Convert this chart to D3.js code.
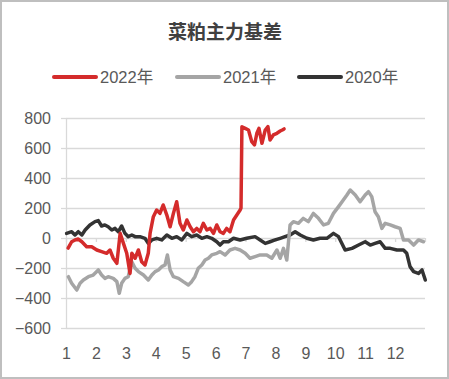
<!DOCTYPE html>
<html>
<head>
<meta charset="utf-8">
<script src="https://cdn.jsdelivr.net/npm/d3@7"></script>
<style>
  body { margin: 0; background: #fff; }
  svg { display: block; }
  .tick text { font-family: "Liberation Sans", Arial, sans-serif; fill: #595959; }
</style>
</head>
<body>
<svg class="svg-chart" width="449" height="379"></svg>
<script>
// 菜粕主力基差, x = month of year (fractional), y = basis
const title = '菜粕主力基差';
const seriesNames = ['2022年', '2021年', '2020年'];
const seriesColors = ['#d42b2b', '#a5a5a5', '#333333'];
const monthTicks = [1, 2, 3, 4, 5, 6, 7, 8, 9, 10, 11, 12];
const valueTicks = [-600, -400, -200, 0, 200, 400, 600, 800];

const x2022 = [1.07, 1.19, 1.30, 1.41, 1.53, 1.69, 1.86, 2.03, 2.19, 2.36, 2.47, 2.58, 2.70, 2.81, 2.92,
  3.03, 3.14, 3.20, 3.31, 3.42, 3.53, 3.64, 3.75, 3.81, 3.92, 4.03, 4.14, 4.25, 4.37, 4.48, 4.59, 4.70,
  4.81, 4.92, 5.04, 5.15, 5.26, 5.37, 5.48, 5.59, 5.71, 5.82, 5.93, 6.04, 6.15, 6.26, 6.37, 6.48, 6.60,
  6.71, 6.82, 6.85, 6.88, 6.99, 7.10, 7.21, 7.30, 7.38, 7.45, 7.55, 7.66, 7.75, 7.82, 7.93, 8.05, 8.16,
  8.23, 8.29];
const y2022 = [-67, -25, -13, -7, -25, -58, -58, -80, -91, -102, -80, -135, -169, 31, -36,
  -102, -236, -102, -135, -80, -158, -180, -102, 31, 142, 187, 164, 220, 153, 75, 164, 242,
  98, 53, 120, 75, 42, 64, 42, 98, 53, 64, 31, 87, 42, 31, 64, 42, 120,
  153, 187, 200, 742, 731, 720, 642, 620, 698, 731, 631, 720, 742, 653, 687, 698, 713,
  720, 727];

const x2021 = [1.08, 1.19, 1.36, 1.47, 1.58, 1.75, 1.91, 2.08, 2.19, 2.30, 2.41, 2.58, 2.70, 2.78, 2.86,
  2.97, 3.08, 3.20, 3.31, 3.42, 3.59, 3.75, 3.87, 3.98, 4.09, 4.20, 4.31, 4.39, 4.48, 4.59, 4.76, 4.92,
  5.09, 5.20, 5.31, 5.42, 5.54, 5.65, 5.76, 5.87, 6.04, 6.15, 6.32, 6.48, 6.65, 6.82, 6.99, 7.15, 7.32,
  7.49, 7.71, 7.88, 8.05, 8.16, 8.27, 8.38, 8.49, 8.60, 8.77, 8.93, 9.10, 9.27, 9.44, 9.61, 9.77, 9.94,
  10.11, 10.27, 10.39, 10.50, 10.67, 10.83, 11.00, 11.11, 11.22, 11.33, 11.44, 11.56, 11.67, 11.84,
  12.00, 12.17, 12.28, 12.45, 12.62, 12.78, 12.95];
const y2021 = [-258, -302, -347, -302, -280, -258, -247, -213, -247, -269, -258, -269, -291, -369, -302,
  -269, -258, -158, -202, -224, -247, -280, -247, -224, -213, -191, -180, -113, -213, -258, -269, -291,
  -313, -291, -258, -202, -180, -147, -135, -113, -102, -91, -113, -80, -69, -80, -102, -135, -124,
  -113, -113, -135, -80, -135, -69, -147, 87, 109, 98, 131, 109, 164, 131, 87, 98, 164,
  209, 253, 287, 320, 287, 242, 287, 309, 276, 175, 142, 64, 98, 87,
  75, 64, -13, -13, -47, -13, -25];

const x2020 = [1.02, 1.19, 1.30, 1.41, 1.53, 1.64, 1.80, 1.97, 2.08, 2.19, 2.30, 2.41, 2.53, 2.64, 2.75,
  2.86, 2.97, 3.08, 3.20, 3.31, 3.47, 3.64, 3.75, 3.87, 4.03, 4.20, 4.37, 4.54, 4.70, 4.87, 5.04, 5.20,
  5.37, 5.54, 5.71, 5.87, 6.04, 6.15, 6.26, 6.43, 6.60, 6.82, 7.04, 7.32, 7.49, 7.66, 7.82, 7.99, 8.16,
  8.32, 8.49, 8.66, 8.83, 9.05, 9.27, 9.49, 9.72, 9.94, 10.11, 10.33, 10.56, 10.78, 11.00, 11.17, 11.33,
  11.50, 11.67, 11.84, 12.06, 12.28, 12.39, 12.50, 12.62, 12.78, 12.90, 13.01];
const y2020 = [31, 42, 20, 42, 20, 53, 87, 109, 116, 80, 87, 75, 53, 64, 42,
  80, 31, 9, 20, 9, 9, -2, -36, -13, -2, -13, 20, -2, 9, -13, 31, 9,
  20, -2, 9, -2, -25, -47, -25, -25, -2, -13, -2, 9, -13, -36, -25, -13, -2,
  9, 20, 42, 20, -2, -13, -2, -2, 31, 9, -80, -69, -47, -25, -47, -36,
  -25, -69, -69, -80, -80, -102, -191, -224, -236, -213, -280];

const svg = d3.select('.svg-chart');
const width = +svg.attr('width');
const height = +svg.attr('height');
const margin = { top: 118, right: 24, bottom: 51, left: 66 };
const plotW = width - margin.left - margin.right;
const plotH = height - margin.top - margin.bottom;

svg.append('rect')
  .attr('x', 1).attr('y', 1)
  .attr('width', width - 2).attr('height', height - 2)
  .attr('fill', '#fff')
  .attr('stroke', '#bfbfbf')
  .attr('stroke-width', 2);

svg.append('text')
  .attr('x', 225).attr('y', 39)
  .attr('text-anchor', 'middle')
  .style('font-family', '"Noto Sans CJK SC", sans-serif')
  .style('font-size', '19px')
  .style('font-weight', 'bold')
  .style('fill', '#404040')
  .text(title);

// legend
const legendX = [54, 177, 299];
const legend = svg.append('g').attr('class', 'legend');
seriesNames.forEach((name, i) => {
  legend.append('line')
    .attr('x1', legendX[i]).attr('x2', legendX[i] + 42)
    .attr('y1', 77).attr('y2', 77)
    .attr('stroke', seriesColors[i])
    .attr('stroke-width', 4)
    .attr('stroke-linecap', 'round');
  legend.append('text')
    .attr('x', legendX[i] + 46).attr('y', 83)
    .style('font-family', '"Liberation Sans", "Noto Sans CJK SC", sans-serif')
    .style('font-size', '16.5px')
    .style('fill', '#595959')
    .text(name);
});

const x = d3.scaleLinear().domain([1, 13]).range([0, plotW]);
const y = d3.scaleLinear().domain([-600, 800]).range([plotH, 0]);

const focus = svg.append('g')
  .attr('class', 'focus')
  .attr('transform', 'translate(' + margin.left + ',' + margin.top + ')');

// gridlines
focus.append('g')
  .attr('class', 'grid')
  .call(d3.axisLeft(y).tickValues(valueTicks).tickSize(-plotW).tickFormat(''))
  .call(g => g.select('.domain').remove())
  .call(g => g.selectAll('line').attr('stroke', '#d9d9d9').attr('stroke-width', 1.3));

// y axis with outward ticks
focus.append('g')
  .attr('class', 'axis axis--y')
  .call(d3.axisLeft(y).tickValues(valueTicks).tickSize(5).tickPadding(10).tickSizeOuter(0))
  .call(g => g.select('.domain').attr('stroke', '#d9d9d9').attr('stroke-width', 1.3))
  .call(g => g.selectAll('.tick line').attr('stroke', '#d9d9d9').attr('stroke-width', 1.3))
  .call(g => g.selectAll('text').style('font-size', '16px'));

// small tick marks on the zero line
focus.append('g')
  .attr('class', 'axis axis--zero')
  .attr('transform', 'translate(0,' + y(0) + ')')
  .call(d3.axisBottom(x).tickValues(monthTicks.concat([13])).tickSize(4).tickFormat(''))
  .call(g => g.select('.domain').remove())
  .call(g => g.selectAll('line').attr('stroke', '#d9d9d9').attr('stroke-width', 1.3));

// month labels
focus.append('g')
  .attr('class', 'axis axis--x')
  .attr('transform', 'translate(0,' + plotH + ')')
  .call(d3.axisBottom(x).tickValues(monthTicks).tickSize(0).tickPadding(20).tickFormat(d3.format('d')))
  .call(g => g.select('.domain').remove())
  .call(g => g.selectAll('text').style('font-size', '16px'));

const valueline = d3.line()
  .x(d => x(d[0]))
  .y(d => y(d[1]));

const series = [
  { name: seriesNames[2], xs: x2020, ys: y2020, color: seriesColors[2] },
  { name: seriesNames[1], xs: x2021, ys: y2021, color: seriesColors[1] },
  { name: seriesNames[0], xs: x2022, ys: y2022, color: seriesColors[0] }
];

series.forEach(s => {
  focus.append('path')
    .datum(s.xs.map((v, i) => [v, s.ys[i]]))
    .attr('class', 'line')
    .attr('fill', 'none')
    .attr('stroke', s.color)
    .attr('stroke-width', 3.5)
    .attr('stroke-linejoin', 'round')
    .attr('stroke-linecap', 'round')
    .attr('d', valueline);
});
</script>
</body>
</html>
